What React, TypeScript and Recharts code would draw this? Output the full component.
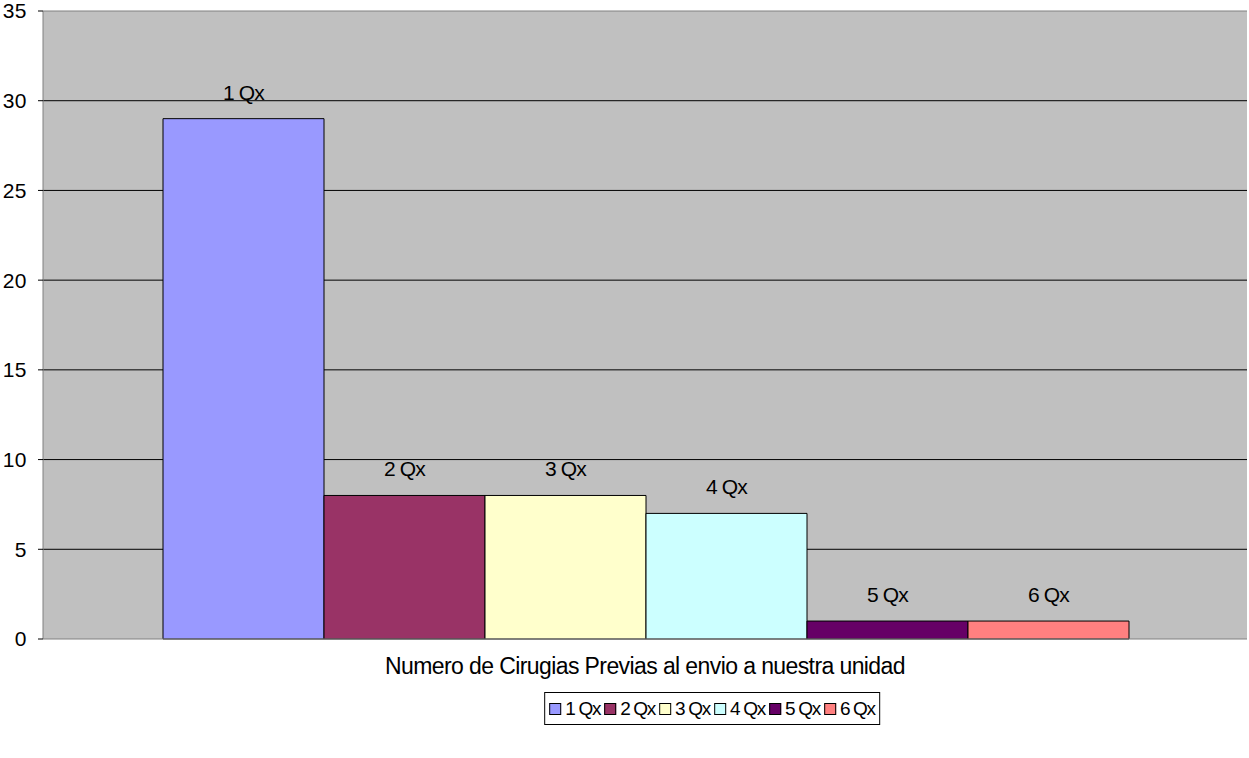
import { BarChart, Bar, XAxis, YAxis, CartesianGrid, LabelList, Label, ReferenceLine } from 'recharts';

const seriesNames = ['1 Qx', '2 Qx', '3 Qx', '4 Qx', '5 Qx', '6 Qx'];
const seriesValues = [29, 8, 8, 7, 1, 1];
const seriesColors = ['#9999FF', '#993366', '#FFFFCC', '#CCFFFF', '#660066', '#FF8080'];
const yTicks = [0, 5, 10, 15, 20, 25, 30, 35];
const axisTitle = 'Numero de Cirugias Previas al envio a nuestra unidad';

const FONT = '"Liberation Sans", Arial, sans-serif';

// one category, one key per series
const row: Record<string, string | number> = { name: 'Cirugias' };
seriesNames.forEach((n, i) => {
  row[`s${i}`] = seriesValues[i];
});
const chartData = [row];

export default function App() {
  return (
    <div style={{ position: 'absolute', left: 0, top: 0, width: 1249, height: 758, background: '#fff', fontFamily: FONT }}>
      <BarChart
        width={1249}
        height={758}
        data={chartData}
        margin={{ top: 11, right: 2, left: 0, bottom: 69 }}
        barGap={0}
        barCategoryGap={120}
      >
        <CartesianGrid vertical={false} stroke="#000" fill="#C0C0C0" horizontalValues={[5, 10, 15, 20, 25, 30]} />
        <XAxis
          dataKey="name"
          tick={false}
          tickLine={false}
          axisLine={{ stroke: '#808080' }}
          height={50}
        >
          <Label value={axisTitle} position="center" dy={2} style={{ fontSize: 23, fill: '#000', fontFamily: FONT, letterSpacing: -0.6 }} />
        </XAxis>
        <YAxis
          width={43}
          domain={[0, 35]}
          ticks={yTicks}
          interval={0}
          tickSize={5}
          tickMargin={11}
          axisLine={{ stroke: '#808080' }}
          tickLine={{ stroke: '#000' }}
          tick={{ fontSize: 21, fill: '#000', fontFamily: FONT, letterSpacing: 0.5 }}
        />
        <YAxis
          yAxisId="right"
          orientation="right"
          width={0}
          domain={[0, 35]}
          tick={false}
          tickLine={false}
          axisLine={{ stroke: '#808080' }}
        />
        <ReferenceLine y={35} stroke="#808080" />
        {seriesNames.map((n, i) => (
          <Bar
            key={n}
            dataKey={`s${i}`}
            name={n}
            fill={seriesColors[i]}
            stroke="#000"
            strokeWidth={1}
            isAnimationActive={false}
          >
            <LabelList
              position="top"
              offset={19}
              formatter={() => n}
              style={{ fontSize: 21, fill: '#000', fontFamily: FONT, letterSpacing: -0.8 }}
            />
          </Bar>
        ))}
      </BarChart>
      <div
        style={{
          position: 'absolute',
          left: 712,
          top: 692,
          transform: 'translateX(-50%)',
          height: 33,
          padding: '0 4px',
          boxSizing: 'border-box',
          border: '1px solid #000',
          display: 'flex',
          alignItems: 'center',
          gap: 4,
          fontSize: 19,
          letterSpacing: -1.3,
          whiteSpace: 'nowrap',
        }}
      >
        {seriesNames.map((n, i) => (
          <div key={n} style={{ display: 'flex', alignItems: 'center', gap: 4 }}>
            <span style={{ display: 'inline-block', width: 10, height: 10, background: seriesColors[i], border: '1px solid #000' }} />
            <span>{n}</span>
          </div>
        ))}
      </div>
    </div>
  );
}
